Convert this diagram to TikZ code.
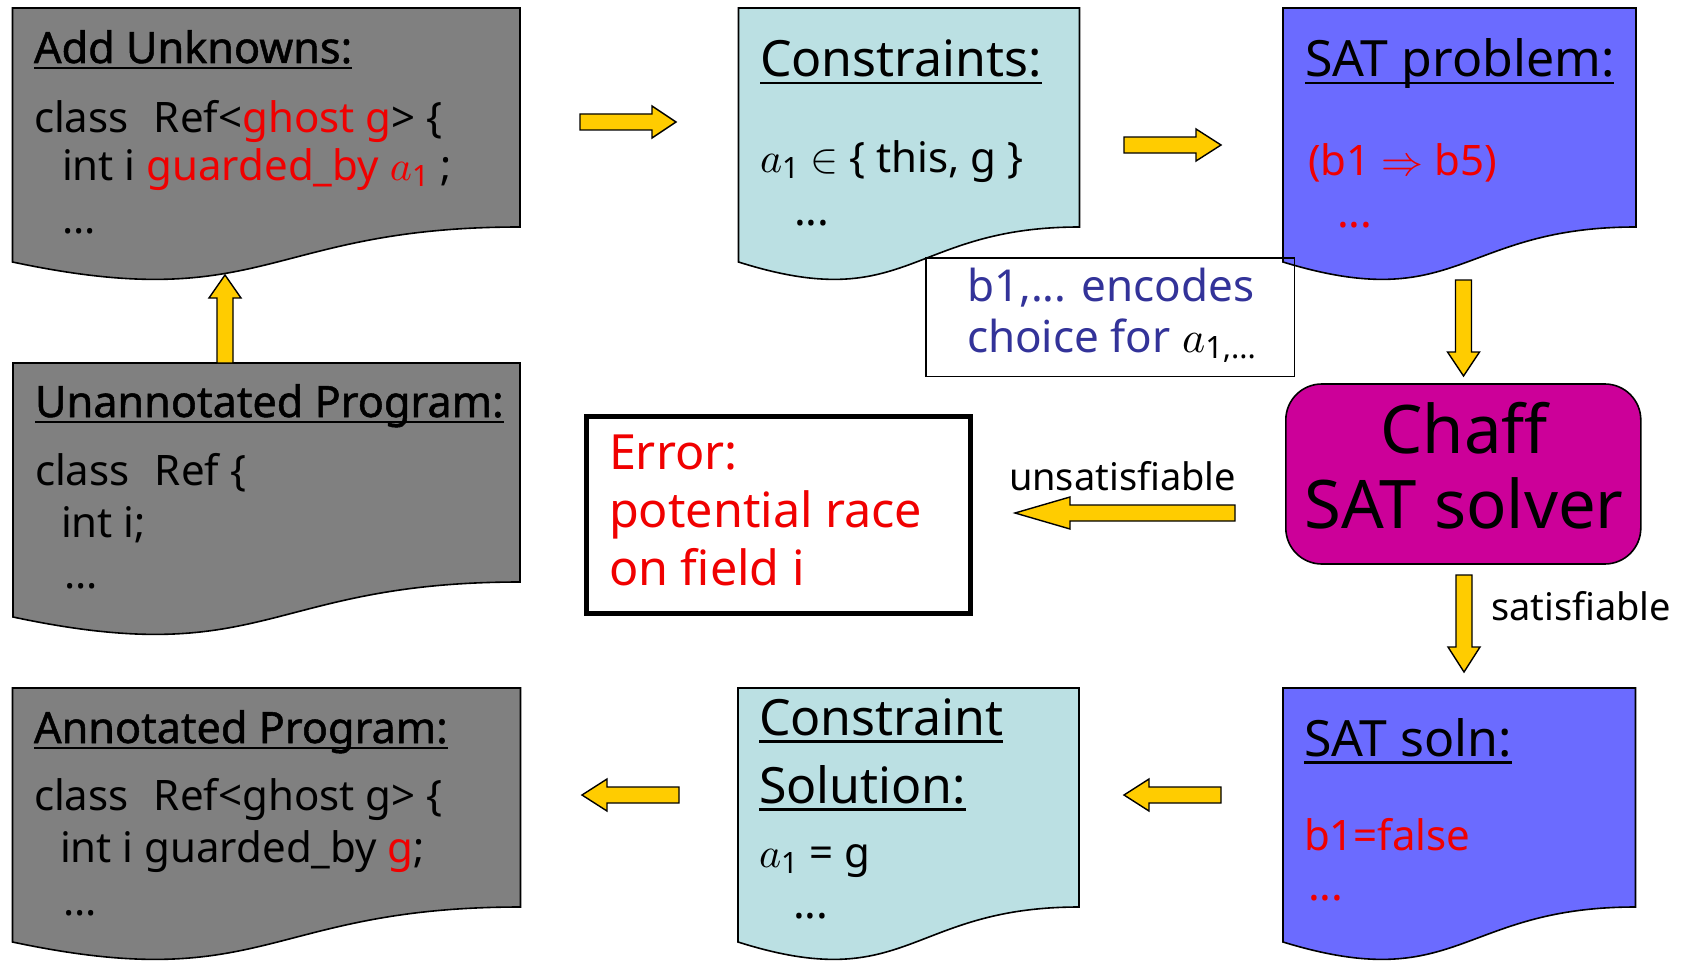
\documentclass[tikz,border=0pt]{standalone}
\usepackage{amsmath}
\usepackage{fontspec}
\setmainfont{Noto Sans}
\newfontfamily\heavyfont[FakeBold=1.2]{Noto Sans}
\DeclareFontShape{OML}{cmm}{m}{it}{<->cmmi10}{}
\DeclareFontShape{OMS}{cmsy}{m}{n}{<->cmsy10}{}
\usetikzlibrary{calc}
\definecolor{docgray}{HTML}{808080}
\definecolor{doccyan}{HTML}{BBE0E3}
\definecolor{docblue}{HTML}{6B6BFF}
\definecolor{chaffmag}{HTML}{CC0099}
\definecolor{arrowyel}{HTML}{FFCC00}
\definecolor{txtred}{HTML}{F00000}
\definecolor{noteblue}{HTML}{333399}
\newcommand\myul[1]{\setbox0\hbox{#1}\rlap{\rule[-0.15em]{\wd0}{0.055em}}\box0}
\newcommand\aone{$a_{\text{1}}$}
\newcommand\docshape[4]{%
  \draw[#4] (#1,#2) -- (#3,#2) -- (#3,#2+219)
    .. controls ({(#1+#3)/2},#2+219) and ({(#1+#3)/2},#2+308) .. (#1,#2+254) -- cycle;}
\newcommand\blockarrow[3][25pt]{%
  \coordinate (hb) at ($(#3)!#1!(#2)$);
  \draw[barrow] ($(#2)!8pt!90:(#3)$) -- ($(hb)!8pt!90:(#3)$) -- ($(hb)!16pt!90:(#3)$)
    -- (#3) -- ($(hb)!16pt!-90:(#3)$) -- ($(hb)!8pt!-90:(#3)$) -- ($(#2)!8pt!-90:(#3)$) -- cycle;}
\tikzset{
  doc/.style={draw=black, line width=1.6pt},
  txt/.style={anchor=base west, inner sep=0pt, outer sep=0pt},
  code/.style={txt, font=\fontsize{42}{48}\selectfont},
  bdots/.style={txt, font=\fontsize{44}{48}\selectfont\bfseries},
  ptitle/.style={txt, font=\fontsize{43.2}{48}\heavyfont},
  stitle/.style={txt, font=\fontsize{50}{58}\selectfont},
  lbl/.style={txt, font=\fontsize{38}{44}\selectfont},
  errtxt/.style={txt, text=txtred, font=\fontsize{48.5}{58}\selectfont\bfseries},
  barrow/.style={draw=black, line width=1.4pt, fill=arrowyel, line join=miter},
}
\begin{document}
\begin{tikzpicture}[x=1pt, y=-1pt]
\useasboundingbox (0,0) rectangle (1688,963);
% document shapes
\docshape{12.5}{8}{520}{doc, fill=docgray}
\docshape{738.5}{8}{1079.5}{doc, fill=doccyan}
\docshape{1283}{8}{1636}{doc, fill=docblue}
\docshape{13}{363}{520}{doc, fill=docgray}
\docshape{12.5}{688}{520.5}{doc, fill=docgray}
\docshape{738}{688}{1079}{doc, fill=doccyan}
\docshape{1283}{688}{1635.5}{doc, fill=docblue}
% Add Unknowns
\node[ptitle] (t1) at (34,63) {\myul{Add Unknowns:}};
\node[code] (c1a) at (34,132) {class\hspace{0.6em}Ref<\textcolor{txtred}{ghost g}> \{};
\node[code] (c1b) at (62,180) {int i \textcolor{txtred}{guarded\_by \aone} ;};
\node[code] (c1c) at (62,233) {...};
% Constraints
\node[stitle] (t2) at (760,77) {\myul{Constraints:}};
\node[code] (c2a) at (760,172) {\aone\ $\in$ \{ this, g \}};
\node[bdots] (c2b) at (794,225) {...};
% SAT problem
\node[stitle] (t3) at (1305,77) {\myul{SAT problem:}};
\node[code, text=txtred] (c3a) at (1308,175) {(b1 $\Rightarrow$ b5)};
\node[bdots, text=txtred] (c3b) at (1337,227) {...};
% Unannotated
\node[ptitle] (t4) at (35,417) {\myul{Unannotated Program:}};
\node[code] (c4a) at (35,485) {class\hspace{0.6em}Ref \{};
\node[code] (c4b) at (61,537) {int i;};
\node[code] (c4c) at (64,588) {...};
% Annotated
\node[ptitle] (t5) at (34,743) {\myul{Annotated Program:}};
\node[code] (c5a) at (34,810) {class\hspace{0.6em}Ref<ghost g> \{};
\node[code] (c5b) at (60,862) {int i guarded\_by \textcolor{txtred}{g};};
\node[code] (c5c) at (63,915) {...};
% Constraint Solution
\node[stitle] (t6a) at (759,735) {\myul{Constraint}};
\node[stitle] (t6b) at (759,803) {\myul{Solution:}};
\node[code] (c6a) at (759,867) {\aone\ = g};
\node[bdots] (c6b) at (793,918) {...};
% SAT soln
\node[stitle] (t7) at (1304,756) {\myul{SAT soln:}};
\node[code, text=txtred] (c7a) at (1304,850) {b1=false};
\node[bdots, text=txtred] (c7b) at (1308,900) {...};
% Chaff
\node[draw, line width=1.6pt, fill=chaffmag, rounded corners=36pt, minimum width=355pt,
      minimum height=180pt, inner sep=0pt] (chaff) at (1463.3,474) {};
\node[txt, anchor=base, font=\fontsize{67}{75}\selectfont] (ch1) at (1464,453) {Chaff};
\node[txt, anchor=base, font=\fontsize{67}{75}\selectfont] (ch2) at (1464,528) {SAT solver};
% Error
\node[draw, line width=5pt, minimum width=384pt, minimum height=197pt, inner sep=0pt] (err) at (778,515) {};
\node[errtxt] (e1) at (609,469) {Error:};
\node[errtxt] (e2) at (609,527) {potential race};
\node[errtxt] (e3) at (609,585) {on field i};
% labels
\node[lbl] (uns) at (1009,490) {unsatisfiable};
\node[lbl] (sat) at (1491,620) {satisfiable};
% arrows
\coordinate (a1t) at (580,122);  \coordinate (a1h) at (676,122);
\coordinate (a2t) at (1124,145); \coordinate (a2h) at (1221,145);
\coordinate (a3t) at (1463.5,280); \coordinate (a3h) at (1463.5,376);
\coordinate (a4t) at (1235,513); \coordinate (a4h) at (1015,513);
\coordinate (a5t) at (1464,575); \coordinate (a5h) at (1464,672);
\coordinate (a6t) at (1221,795); \coordinate (a6h) at (1124,795);
\coordinate (a7t) at (679,795);  \coordinate (a7h) at (582,795);
\coordinate (a8t) at (225,363);  \coordinate (a8h) at (225,275);
\blockarrow[24pt]{a1t}{a1h}
\blockarrow{a2t}{a2h}
\blockarrow[24pt]{a3t}{a3h}
\blockarrow[55pt]{a4t}{a4h}
\blockarrow{a5t}{a5h}
\blockarrow{a6t}{a6h}
\blockarrow{a7t}{a7h}
\blockarrow[23pt]{a8t}{a8h}
% note box
\node[draw, line width=1.5pt, minimum width=368.5pt, minimum height=118.5pt, inner sep=0pt] (note) at (1110,317) {};
\node[code, text=noteblue, font=\fontsize{44}{48}\selectfont] (n1) at (967,301) {b1,... encodes};
\node[code, text=noteblue, font=\fontsize{44}{48}\selectfont] (n2) at (967,352) {choice for \textcolor{black}{$a_{\text{1,...}}$}};
\end{tikzpicture}
\end{document}
